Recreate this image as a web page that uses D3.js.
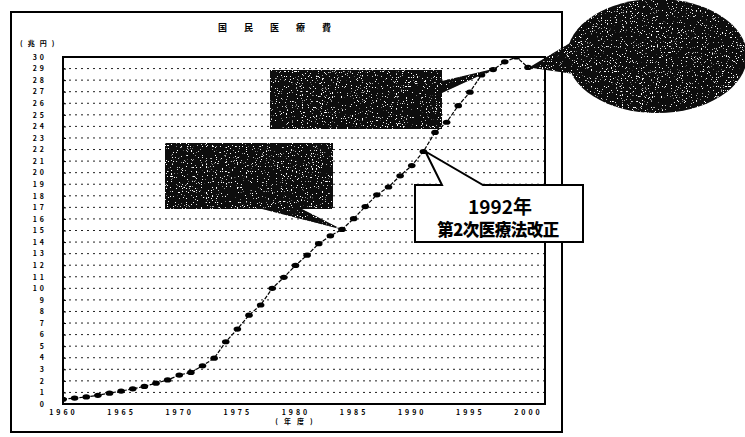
<!DOCTYPE html>
<html>
<head>
<meta charset="utf-8">
<script src="https://cdn.jsdelivr.net/npm/d3@7"></script>
<style>
  html, body { margin: 0; padding: 0; background: #fff; }
  svg { display: block; }
  text { font-family: "Noto Sans CJK JP", "Noto Sans", sans-serif; fill: #000; }
</style>
</head>
<body>
<svg id="chart" width="745" height="437"></svg>
<script>
// 国民医療費 (兆円), fiscal years 1960–2000
const years = d3.range(1960, 2001);
const costs = [0.41, 0.51, 0.61, 0.75, 0.94, 1.12, 1.31, 1.52, 1.80, 2.08,
               2.50, 2.73, 3.30, 3.96, 5.38, 6.48, 7.68, 8.56, 10.0, 10.95,
               11.98, 12.87, 13.86, 14.54, 15.09, 16.02, 17.07, 18.08, 18.76, 19.73,
               20.61, 21.83, 23.48, 24.36, 25.79, 26.96, 28.45, 28.91, 29.58, 30.0,
               29.1];
const yTicks = d3.range(0, 31);
const xTicks = [1960, 1965, 1970, 1975, 1980, 1985, 1990, 1995, 2000];

const title = "国民医療費";
const yUnit = "(兆円)";
const xUnit = "(年度)";
const noteYear = 1992;
const noteLines = ["1992年", "第2次医療法改正"];
// callout anchors (fiscal years)
const calloutMid = 1984;
const calloutUpper = 1997;
const calloutEnd = 2000;

const svg = d3.select("#chart");

const plot = { left: 63, top: 57, right: 545, bottom: 404 };
const x = d3.scaleLinear().domain([1960, 2000]).range([plot.left, 528]);
const y = d3.scaleLinear().domain([0, 30]).range([plot.bottom, plot.top]);

// sparse speckle texture for the filled callouts
const defs = svg.append("defs");
const f = defs.append("filter").attr("id", "speckle").attr("x", 0).attr("y", 0).attr("width", 1).attr("height", 1);
f.append("feTurbulence").attr("type", "fractalNoise").attr("baseFrequency", 0.8).attr("numOctaves", 2).attr("seed", 3).attr("result", "noise");
f.append("feColorMatrix").attr("in", "noise").attr("type", "matrix")
  .attr("values", "0 0 0 0 1  0 0 0 0 1  0 0 0 0 1  0 0 0 -16 5.3").attr("result", "dots");
f.append("feComposite").attr("in", "dots").attr("in2", "SourceGraphic").attr("operator", "in").attr("result", "clipped");
f.append("feMerge").selectAll("feMergeNode").data(["SourceGraphic", "clipped"]).join("feMergeNode").attr("in", d => d);

const clip = defs.append("clipPath").attr("id", "plotClip");
clip.append("rect").attr("x", plot.left).attr("y", plot.top)
  .attr("width", plot.right - plot.left).attr("height", plot.bottom - plot.top);

// outer frame
svg.append("rect").attr("x", 11).attr("y", 12).attr("width", 551).attr("height", 420)
  .attr("fill", "none").attr("stroke", "#000").attr("stroke-width", 2);

// title
svg.append("text").attr("x", 283).attr("y", 31).attr("text-anchor", "middle")
  .attr("font-size", 9).attr("font-weight", "bold").attr("letter-spacing", 17)
  .text(title);

// unit labels
svg.append("text").attr("x", 20).attr("y", 46).attr("font-size", 7).attr("font-weight", "bold")
  .attr("letter-spacing", 5).text(yUnit);
svg.append("text").attr("x", 297).attr("y", 424).attr("text-anchor", "middle")
  .attr("font-size", 7).attr("font-weight", "bold").attr("letter-spacing", 6).text(xUnit);

// horizontal dotted gridlines
svg.append("g").selectAll("line").data(yTicks.filter(d => d > 0 && d < 30)).join("line")
  .attr("x1", plot.left).attr("x2", plot.right)
  .attr("y1", d => y(d)).attr("y2", d => y(d))
  .attr("stroke", "#222").attr("stroke-width", 1).attr("stroke-dasharray", "2,4");

// y axis labels
const yAxis = svg.append("g").attr("transform", `translate(${plot.left},0)`)
  .call(d3.axisLeft(y).tickValues(yTicks).tickSize(3).tickPadding(13).tickFormat(d3.format("d")));
yAxis.select(".domain").remove();
yAxis.selectAll("line").attr("stroke", "#000").attr("transform", "translate(3,0)");
yAxis.selectAll("text").attr("font-size", 7).attr("font-weight", "bold").attr("letter-spacing", 3)
  .attr("font-family", "'DejaVu Sans', sans-serif");

// x axis labels
const xAxis = svg.append("g").attr("transform", `translate(0,${plot.bottom})`)
  .call(d3.axisBottom(x).tickValues(xTicks).tickSize(0).tickPadding(6).tickFormat(d3.format("d")));
xAxis.select(".domain").remove();
xAxis.selectAll("text").attr("font-size", 7).attr("font-weight", "bold").attr("letter-spacing", 3)
  .attr("font-family", "'DejaVu Sans', sans-serif");

// plot border
svg.append("rect").attr("x", plot.left).attr("y", plot.top)
  .attr("width", plot.right - plot.left).attr("height", plot.bottom - plot.top)
  .attr("fill", "none").attr("stroke", "#000").attr("stroke-width", 2);

// data line and markers
const series = years.map((yr, i) => ({ yr, v: costs[i] }));
const g = svg.append("g").attr("clip-path", "url(#plotClip)");
g.append("path").datum(series)
  .attr("d", d3.line().x(d => x(d.yr)).y(d => y(d.v)))
  .attr("fill", "none").attr("stroke", "#000").attr("stroke-width", 1.2).attr("stroke-dasharray", "4,1.5");
g.selectAll("ellipse").data(series).join("ellipse")
  .attr("cx", d => x(d.yr)).attr("cy", d => y(d.v))
  .attr("rx", 3.8).attr("ry", 2.6).attr("fill", "#000");

const at = yr => { const d = series.find(s => s.yr === yr); return [x(d.yr), y(d.v)]; };

// filled callout: middle
const pMid = at(calloutMid);
svg.append("path")
  .attr("d", `M165,143 H333 V209 H302 L${pMid[0]},${pMid[1]} L262,209 H165 Z`)
  .attr("fill", "#080808").attr("filter", "url(#speckle)");

// filled callout: upper
const pUp = at(calloutUpper);
svg.append("path")
  .attr("d", `M270,70 H442 V81 L${pUp[0] + 2},${pUp[1] - 1} L442,93 V129 H270 Z`)
  .attr("fill", "#080808").attr("filter", "url(#speckle)");

// filled oval callout at the series end
const pEnd = at(calloutEnd);
const oval = svg.append("g").attr("filter", "url(#speckle)");
oval.append("ellipse").attr("cx", 657).attr("cy", 56).attr("rx", 90).attr("ry", 57).attr("fill", "#080808");
oval.append("path").attr("d", `M575,40 L${pEnd[0] + 1},${pEnd[1]} L574,74 Z`).attr("fill", "#080808");

// 1992 note callout
const pNote = at(noteYear - 1);
svg.append("path")
  .attr("d", `M415,185 H442 L${pNote[0] + 2},${pNote[1]} L483,185 H583 V242 H415 Z`)
  .attr("fill", "#fff").attr("stroke", "#000").attr("stroke-width", 2).attr("stroke-linejoin", "miter");
svg.append("text").attr("x", 500).attr("y", 214).attr("text-anchor", "middle")
  .attr("font-size", 19).attr("font-weight", "bold").text(noteLines[0]);
svg.append("text").attr("x", 498).attr("y", 236).attr("text-anchor", "middle")
  .attr("font-size", 16.5).attr("font-weight", "900").attr("letter-spacing", -0.5).text(noteLines[1]);
</script>
</body>
</html>
